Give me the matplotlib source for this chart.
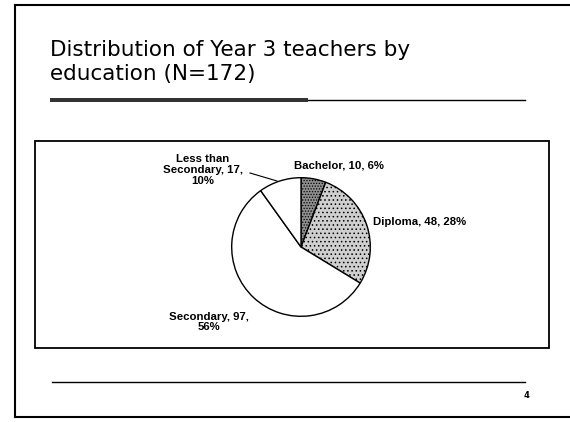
import matplotlib.pyplot as plt
from matplotlib.patches import Rectangle

# data
labels = ["Bachelor", "Diploma", "Secondary", "Less than\nSecondary"]
counts = [10, 48, 97, 17]
percents = [6, 28, 56, 10]
title = "Distribution of Year 3 teachers by\neducation (N=172)"
page_no = "4"

W, H = 570, 422
fig = plt.figure(figsize=(W / 100, H / 100), dpi=100)
plt.rcParams["hatch.color"] = "#555555"
plt.rcParams["hatch.linewidth"] = 0.6

# page canvas in pixel coordinates
bg = fig.add_axes([0, 0, 1, 1])
bg.set_xlim(0, W)
bg.set_ylim(H, 0)
bg.axis("off")

# slide frame (right edge falls off the scan)
bg.plot([15, 15], [5, 417], color="black", lw=1.5)
bg.plot([15, 570], [5, 5], color="black", lw=1.5)
bg.plot([15, 570], [417, 417], color="black", lw=1.5)

# title and underline
bg.text(50, 62, title, fontsize=15.5, family="DejaVu Sans", va="center",
        ha="left", linespacing=1.2)
bg.add_patch(Rectangle((50, 98), 258, 4, fc="#333333", ec="none", hatch="////"))
bg.plot([308, 525], [99.5, 99.5], color="black", lw=1)

# chart box
bg.add_patch(Rectangle((35, 141), 514, 207, fill=False, lw=1.3, ec="black"))

# footer
bg.plot([52, 525], [382, 382], color="black", lw=1)
bg.text(527, 396, page_no, fontsize=6, fontweight="bold", ha="center", va="center")

# pie
cx, cy, r = 301, 247, 70
pax = fig.add_axes([(cx - r) / W, (H - cy - r) / H, 2 * r / W, 2 * r / H])
wedges, _ = pax.pie(counts, startangle=90, counterclock=False,
                    colors=["#8f8f8f", "#cfcfcf", "white", "white"],
                    wedgeprops=dict(edgecolor="black", linewidth=1))
wedges[0].set_hatch("......")
wedges[1].set_hatch("....")
pax.set_xlim(-1.01, 1.01)
pax.set_ylim(-1.01, 1.01)
pax.set_aspect("equal")

lab_font = dict(fontsize=8.2, family="Liberation Sans", fontweight="bold")
texts = [f"{l}, {c}, {p}%" for l, c, p in zip(labels, counts, percents)]
bg.text(339, 166, texts[0], ha="center", va="center", **lab_font)
bg.text(373, 222, texts[1], ha="left", va="center", **lab_font)
bg.text(209, 322, f"{labels[2]}, {counts[2]},\n{percents[2]}%", ha="center",
        va="center", linespacing=1.05, **lab_font)
bg.text(203, 170, f"Less than\nSecondary, {counts[3]},\n{percents[3]}%",
        ha="center", va="center", linespacing=1.1, **lab_font)
bg.plot([250, 277], [173, 181], color="black", lw=0.8)

fig.savefig("out.png", dpi=100)
